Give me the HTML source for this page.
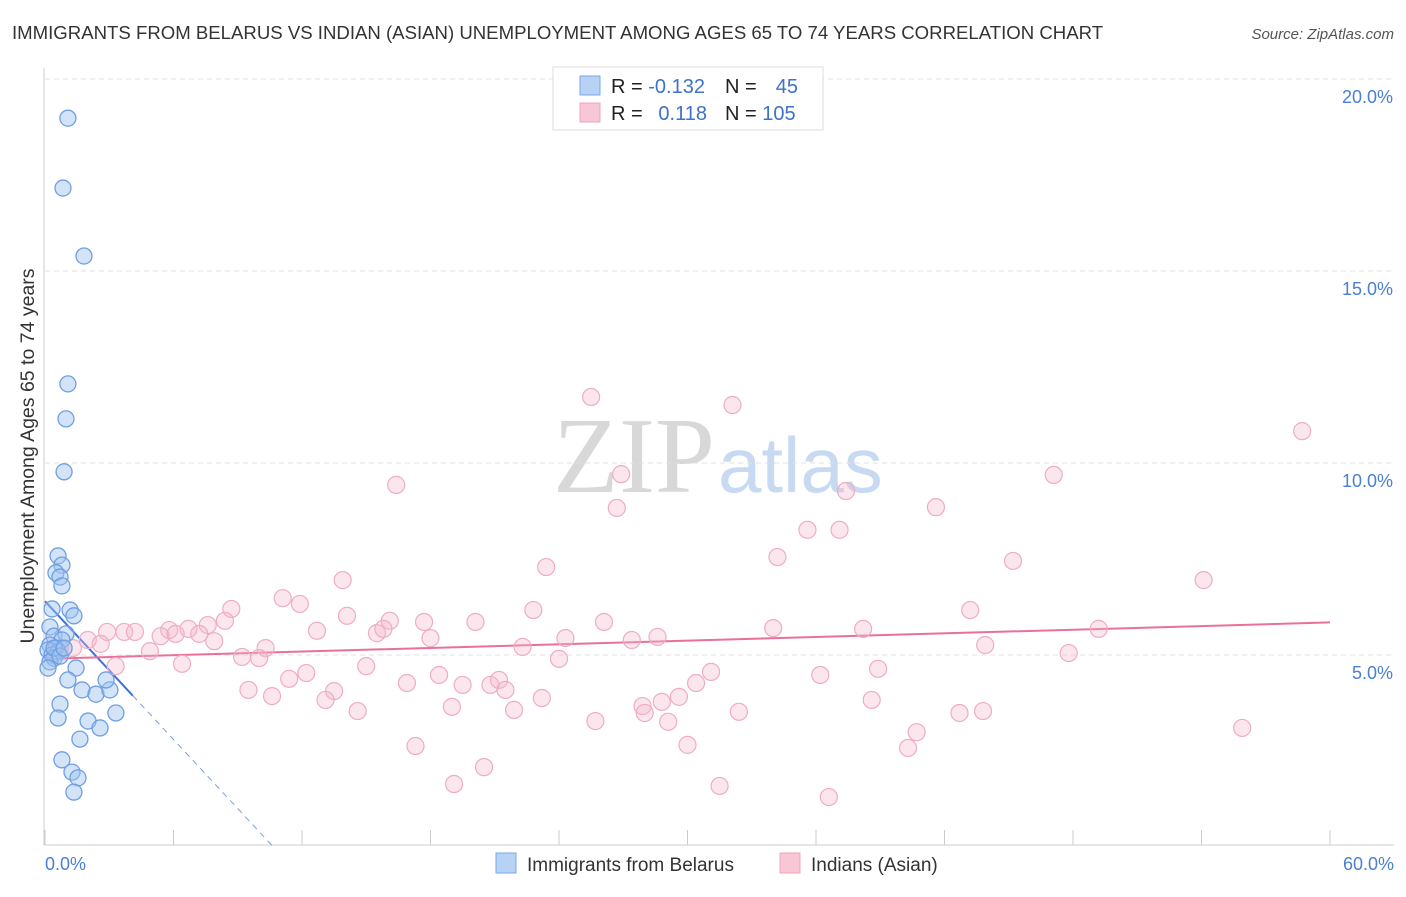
<!DOCTYPE html>
<html><head><meta charset="utf-8"><style>
body{margin:0;background:#fff;font-family:"Liberation Sans",sans-serif;}
svg text{font-family:"Liberation Sans",sans-serif;}
</style></head><body>
<svg id="chart" width="1406" height="892">
<text x="12" y="39" font-size="18.6" fill="#333">IMMIGRANTS FROM BELARUS VS INDIAN (ASIAN) UNEMPLOYMENT AMONG AGES 65 TO 74 YEARS CORRELATION CHART</text>
<text x="1394" y="39" font-size="15" fill="#555" font-style="italic" text-anchor="end">Source: ZipAtlas.com</text>
<g>
<text x="553" y="492" font-size="108" fill="#d8d8d8" style="font-family:'Liberation Serif',serif">ZIP</text>
<text x="718" y="492" font-size="78" fill="#c8daf2">atlas</text>
</g>
<g id="grid"></g><g id="axes"></g><g id="lines"></g><g id="pts"></g>
<text transform="translate(34,456) rotate(-90)" font-size="19.5" fill="#333" text-anchor="middle">Unemployment Among Ages 65 to 74 years</text>
<text x="45" y="870" font-size="18" fill="#4a7fd4">0.0%</text>
<text x="1394" y="870" font-size="18" fill="#4a7fd4" text-anchor="end">60.0%</text>
<g>
<rect x="553" y="67" width="270" height="63" fill="#fff" stroke="#ddd"/>
<rect x="580" y="76" width="20" height="19" fill="#b8d2f5" stroke="#7aa7e6"/>
<rect x="580" y="103" width="20" height="19" fill="#f9c6d6" stroke="#eda3bd"/>
<text x="611" y="93" font-size="20" fill="#222">R = <tspan fill="#3d72c9">-0.132</tspan></text>
<text x="725" y="93" font-size="20" fill="#222">N = </text><text x="798" y="93" font-size="20" fill="#3d72c9" text-anchor="end">45</text>
<text x="611" y="120" font-size="20" fill="#222">R = </text><text x="707" y="120" font-size="20" fill="#3d72c9" text-anchor="end">0.118</text>
<text x="725" y="120" font-size="20" fill="#222">N = <tspan fill="#3d72c9">105</tspan></text>
</g>
<g>
<rect x="496" y="853" width="20" height="20" fill="#b8d2f5" stroke="#7aa7e6"/>
<text x="527" y="871" font-size="19" fill="#333">Immigrants from Belarus</text>
<rect x="780" y="853" width="20" height="20" fill="#f9c6d6" stroke="#eda3bd"/>
<text x="811" y="871" font-size="19" fill="#333">Indians (Asian)</text>
</g>
</svg>
<script>
const yTicks=[5,10,15,20];
const yTickLabels=["5.0%","10.0%","15.0%","20.0%"];
const xTicks=[0,6,12,18,24,30,36,42,48,54,60];
const blueX=[1.07,0.84,1.82,1.07,0.98,0.89,0.61,0.79,0.51,0.70,0.79,1.17,0.33,1.35,0.23,0.42,0.98,0.79,0.23,0.51,0.14,0.33,0.61,0.42,0.23,0.14,1.45,1.07,1.73,2.38,3.03,2.85,0.70,0.61,2.01,3.31,2.57,1.63,0.79,1.26,1.54,1.35,0.42,0.70,0.89];
const blueY=[18.98,17.16,15.39,12.06,11.15,9.77,7.58,7.34,7.14,7.03,6.80,6.17,6.20,6.02,5.73,5.49,5.55,5.39,5.26,5.18,5.13,5.00,5.08,4.92,4.82,4.66,4.66,4.35,4.09,3.98,4.09,4.35,3.72,3.36,3.28,3.49,3.10,2.81,2.27,1.95,1.80,1.43,5.18,4.97,5.18];
const pinkX=[25.5,32.1,58.7,16.4,26.9,47.1,37.4,26.7,41.6,35.6,37.1,34.2,45.2,23.4,54.1,13.9,11.1,11.9,8.7,22.8,43.2,14.1,8.4,7.6,16.1,17.7,20.1,26.1,6.7,5.8,12.7,34.0,38.2,49.2,2.9,3.7,4.2,5.4,7.2,15.5,15.8,18.0,28.6,24.3,27.4,2.0,6.1,7.9,22.3,10.3,43.9,4.9,0.7,1.3,2.6,47.8,9.2,10.0,24.0,6.4,3.3,15.0,31.1,38.9,12.2,36.2,18.4,11.4,16.9,19.5,20.8,21.2,21.5,9.5,13.5,29.6,10.6,13.1,30.4,23.2,38.6,28.8,19.0,21.9,27.9,28.0,14.6,32.4,42.7,43.8,29.1,25.7,40.7,55.9,17.3,30.0,40.3,20.5,19.1,31.5,36.6];
const pinkY=[11.72,11.51,10.83,9.43,9.71,9.69,9.27,8.83,8.85,8.26,8.26,7.55,7.45,7.29,6.95,6.95,6.48,6.33,6.20,6.17,6.17,6.02,5.89,5.78,5.89,5.86,5.86,5.86,5.68,5.65,5.63,5.70,5.68,5.68,5.60,5.60,5.60,5.49,5.55,5.57,5.68,5.44,5.47,5.44,5.39,5.39,5.55,5.36,5.21,5.18,5.26,5.10,5.18,5.18,5.29,5.05,4.95,4.92,4.90,4.77,4.71,4.71,4.56,4.64,4.53,4.48,4.48,4.38,4.27,4.22,4.22,4.35,4.09,4.09,4.06,3.91,3.93,3.83,4.27,3.88,3.83,3.78,3.65,3.57,3.67,3.49,3.54,3.52,3.49,3.54,3.26,3.28,2.99,3.10,2.63,2.66,2.58,2.08,1.64,1.59,1.30];
// trend lines: [intercept, slope]
const blueTrend=[6.4,-0.6];
const blueSolidEnd=[4.1];
const pinkTrend=[4.9,0.0158];
const NS="http://www.w3.org/2000/svg";
const sx=v=>45+v*(1285/60);
const sy=v=>847-v*38.4;
function mk(tag,attrs,parent){const e=document.createElementNS(NS,tag);for(const k in attrs)e.setAttribute(k,attrs[k]);document.getElementById(parent).appendChild(e);return e;}
const topGrid=mk('line',{x1:45,y1:sy(20),x2:1394,y2:sy(20),stroke:'#e0e0e0','stroke-dasharray':'5,4'},'grid');


yTicks.forEach((t,i)=>{
 const g=mk('line',{x1:45,y1:sy(t),x2:1394,y2:sy(t),stroke:'#e0e0e0','stroke-dasharray':'5,4'},'grid');
 
 
 const tx=mk('text',{x:1393,y:sy(t)+24,'font-size':18,fill:'#4a7fd4','text-anchor':'end'},'axes');
 tx.textContent=yTickLabels[i];
 
 
});
const ax=mk('line',{x1:44,y1:68,x2:44,y2:845,stroke:'#ccc'},'axes');


const bx=mk('line',{x1:44,y1:845,x2:1394,y2:845,stroke:'#ccc'},'axes');


xTicks.forEach(t=>{
 const l=mk('line',{x1:sx(t),y1:830,x2:sx(t),y2:845,stroke:'#ccc'},'axes');
 
 
});
const by=x=>blueTrend[0]+blueTrend[1]*x;
const bEnd=blueSolidEnd[0];
const l1=mk('line',{x1:sx(0),y1:sy(by(0)),x2:sx(bEnd),y2:sy(by(bEnd)),stroke:'#3d72d9','stroke-width':2},'lines');


const xz=-blueTrend[0]/blueTrend[1];
const l2=mk('line',{x1:sx(bEnd),y1:sy(by(bEnd)),x2:sx(xz),y2:sy(0),stroke:'#7aa0dd','stroke-width':1,'stroke-dasharray':'6,5'},'lines');


const py=x=>pinkTrend[0]+pinkTrend[1]*x;
const l3=mk('line',{x1:sx(0),y1:sy(py(0)),x2:sx(60),y2:sy(py(60)),stroke:'#e8709a','stroke-width':2},'lines');


pinkX.forEach((x,i)=>{
 const c=mk('circle',{cx:sx(x),cy:sy(pinkY[i]),r:8.5,fill:'rgba(244,182,204,0.35)',stroke:'#efacc4','stroke-width':1.2},'pts');
 
 
});
blueX.forEach((x,i)=>{
 const c=mk('circle',{cx:sx(x),cy:sy(blueY[i]),r:8,fill:'rgba(160,196,240,0.45)',stroke:'#6e9fe3','stroke-width':1.3},'pts');
 
 
});
</script>
</body></html>
